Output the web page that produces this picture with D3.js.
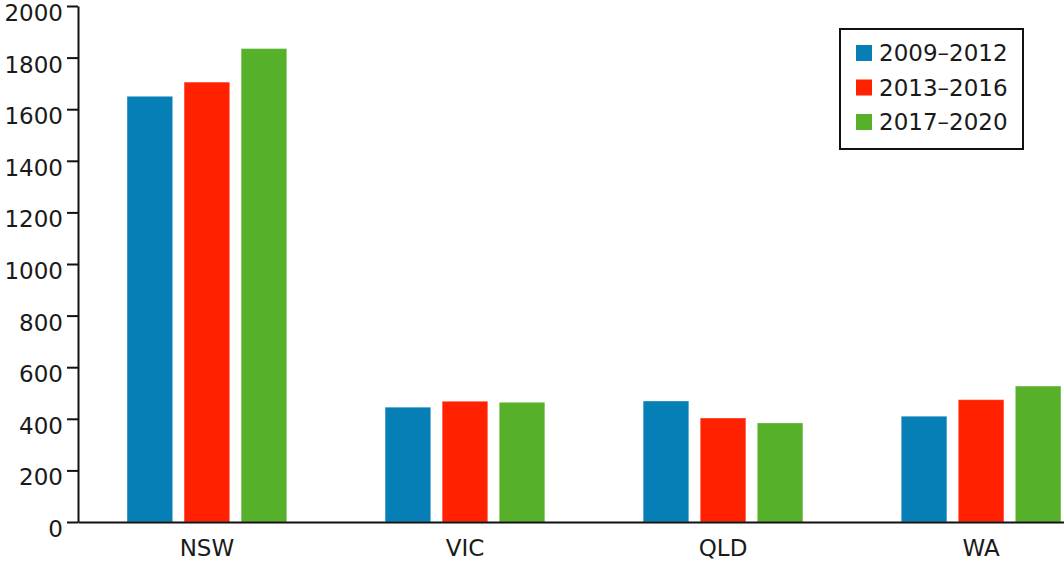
<!DOCTYPE html>
<html>
<head>
	<title>D3 Grouped Barchart</title>
	<script type="text/javascript" src="https://cdn.jsdelivr.net/npm/d3@7"></script>
	<style type="text/css">
		body{
			margin: 0;
			background: #ffffff;
		}
		.bar-chart{
			display: block;
			font-family: 'DejaVu Sans', sans-serif;
		}
	</style>
</head>
<body>

	<svg width="1064" height="562" class="bar-chart"></svg>

	<script type="text/javascript">

		var states = ['NSW', 'VIC', 'QLD', 'WA']
		var periods = ['2009\u20132012', '2013\u20132016', '2017\u20132020']
		var colors = ['#057fb5', '#ff2100', '#56b02a']

		// one array per period, ordered like states
		var values_2009_2012 = [1650, 445, 469, 410]
		var values_2013_2016 = [1705, 468, 403, 474]
		var values_2017_2020 = [1835, 464, 384, 527]

		var y_ticks = [0, 200, 400, 600, 800, 1000, 1200, 1400, 1600, 1800, 2000]

		var series = [values_2009_2012, values_2013_2016, values_2017_2020]

		var data = states.map(function(s, i) {
			return {
				'state': s,
				'vals': periods.map(function(p, j) { return {'period': p, 'value': series[j][i]} })
			}
		})

		margin = {'top':6, 'left':78}
		active_height = 516
		font_size = 23

		var svg = d3.select('.bar-chart')

		var g_main = svg.append('g')
			.attr('transform', 'translate(' + margin['left'] + ',' + margin['top'] + ')')

		yaxis_scale = d3.scaleLinear()
			.range([active_height, 0])
			.domain([0, 2000])

		// plot area runs past the right edge of the picture
		xaxis_scale = d3.scaleBand()
			.range([0, 1032])
			.domain(states)
			.paddingInner(0.381)
			.paddingOuter(0.19)

		inner_scale = d3.scaleBand()
			.range([0, xaxis_scale.bandwidth()])
			.domain(periods)
			.paddingInner(0.2)

		var color_scale = d3.scaleOrdinal()
			.domain(periods)
			.range(colors)

		// bars
		var groups = g_main.append('g')
			.selectAll('.group')
			.data(data)
			.enter()
			.append('g')
			.attr('class', 'group')
			.attr('transform', function(d) { return 'translate(' + xaxis_scale(d.state) + ',0)' })

		groups.selectAll('rect')
			.data(function(d) { return d.vals })
			.enter()
			.append('rect')
			.attr('x', function(d) { return inner_scale(d.period) })
			.attr('y', function(d) { return yaxis_scale(d.value) })
			.attr('width', inner_scale.bandwidth())
			.attr('height', function(d) { return active_height - yaxis_scale(d.value) })
			.attr('fill', function(d) { return color_scale(d.period) })
			.attr('stroke', '#ffffff')
			.attr('stroke-opacity', 0.35)
			.attr('stroke-width', 1)

		// y axis
		var y_axis = g_main.append('g')
			.call(d3.axisLeft(yaxis_scale).tickValues(y_ticks).tickFormat(d3.format('d'))
				.tickSize(11).tickPadding(4).tickSizeOuter(0))

		y_axis.selectAll('path, line')
			.attr('stroke', '#111')
			.attr('stroke-width', 2)
		y_axis.selectAll('text')
			.attr('font-size', font_size)
			.attr('font-family', 'DejaVu Sans')
			.attr('fill', '#1a1a1a')
			.attr('dy', '0.63em')

		// x axis
		var x_axis = g_main.append('g')
			.attr('transform', 'translate(0,' + active_height + ')')
			.call(d3.axisBottom(xaxis_scale).tickSize(0).tickPadding(18).tickSizeOuter(0))

		x_axis.select('path')
			.attr('stroke', '#111')
			.attr('stroke-width', 2)
		x_axis.selectAll('text')
			.attr('font-size', font_size)
			.attr('font-family', 'DejaVu Sans')
			.attr('fill', '#1a1a1a')

		// legend
		var legend = svg.append('g')
			.attr('transform', 'translate(840,29)')

		legend.append('rect')
			.attr('x', 0)
			.attr('y', 0)
			.attr('width', 183)
			.attr('height', 120)
			.attr('fill', '#ffffff')
			.attr('stroke', '#111')
			.attr('stroke-width', 2)

		var items = legend.selectAll('.item')
			.data(periods)
			.enter()
			.append('g')
			.attr('class', 'item')
			.attr('transform', function(d, i) { return 'translate(16,' + (16 + i * 34.5) + ')' })

		items.append('rect')
			.attr('width', 16)
			.attr('height', 16)
			.attr('fill', function(d) { return color_scale(d) })

		items.append('text')
			.attr('x', 23)
			.attr('y', 16)
			.attr('font-size', font_size)
			.attr('fill', '#1a1a1a')
			.text(function(d) { return d })

	</script>

</body>
</html>
